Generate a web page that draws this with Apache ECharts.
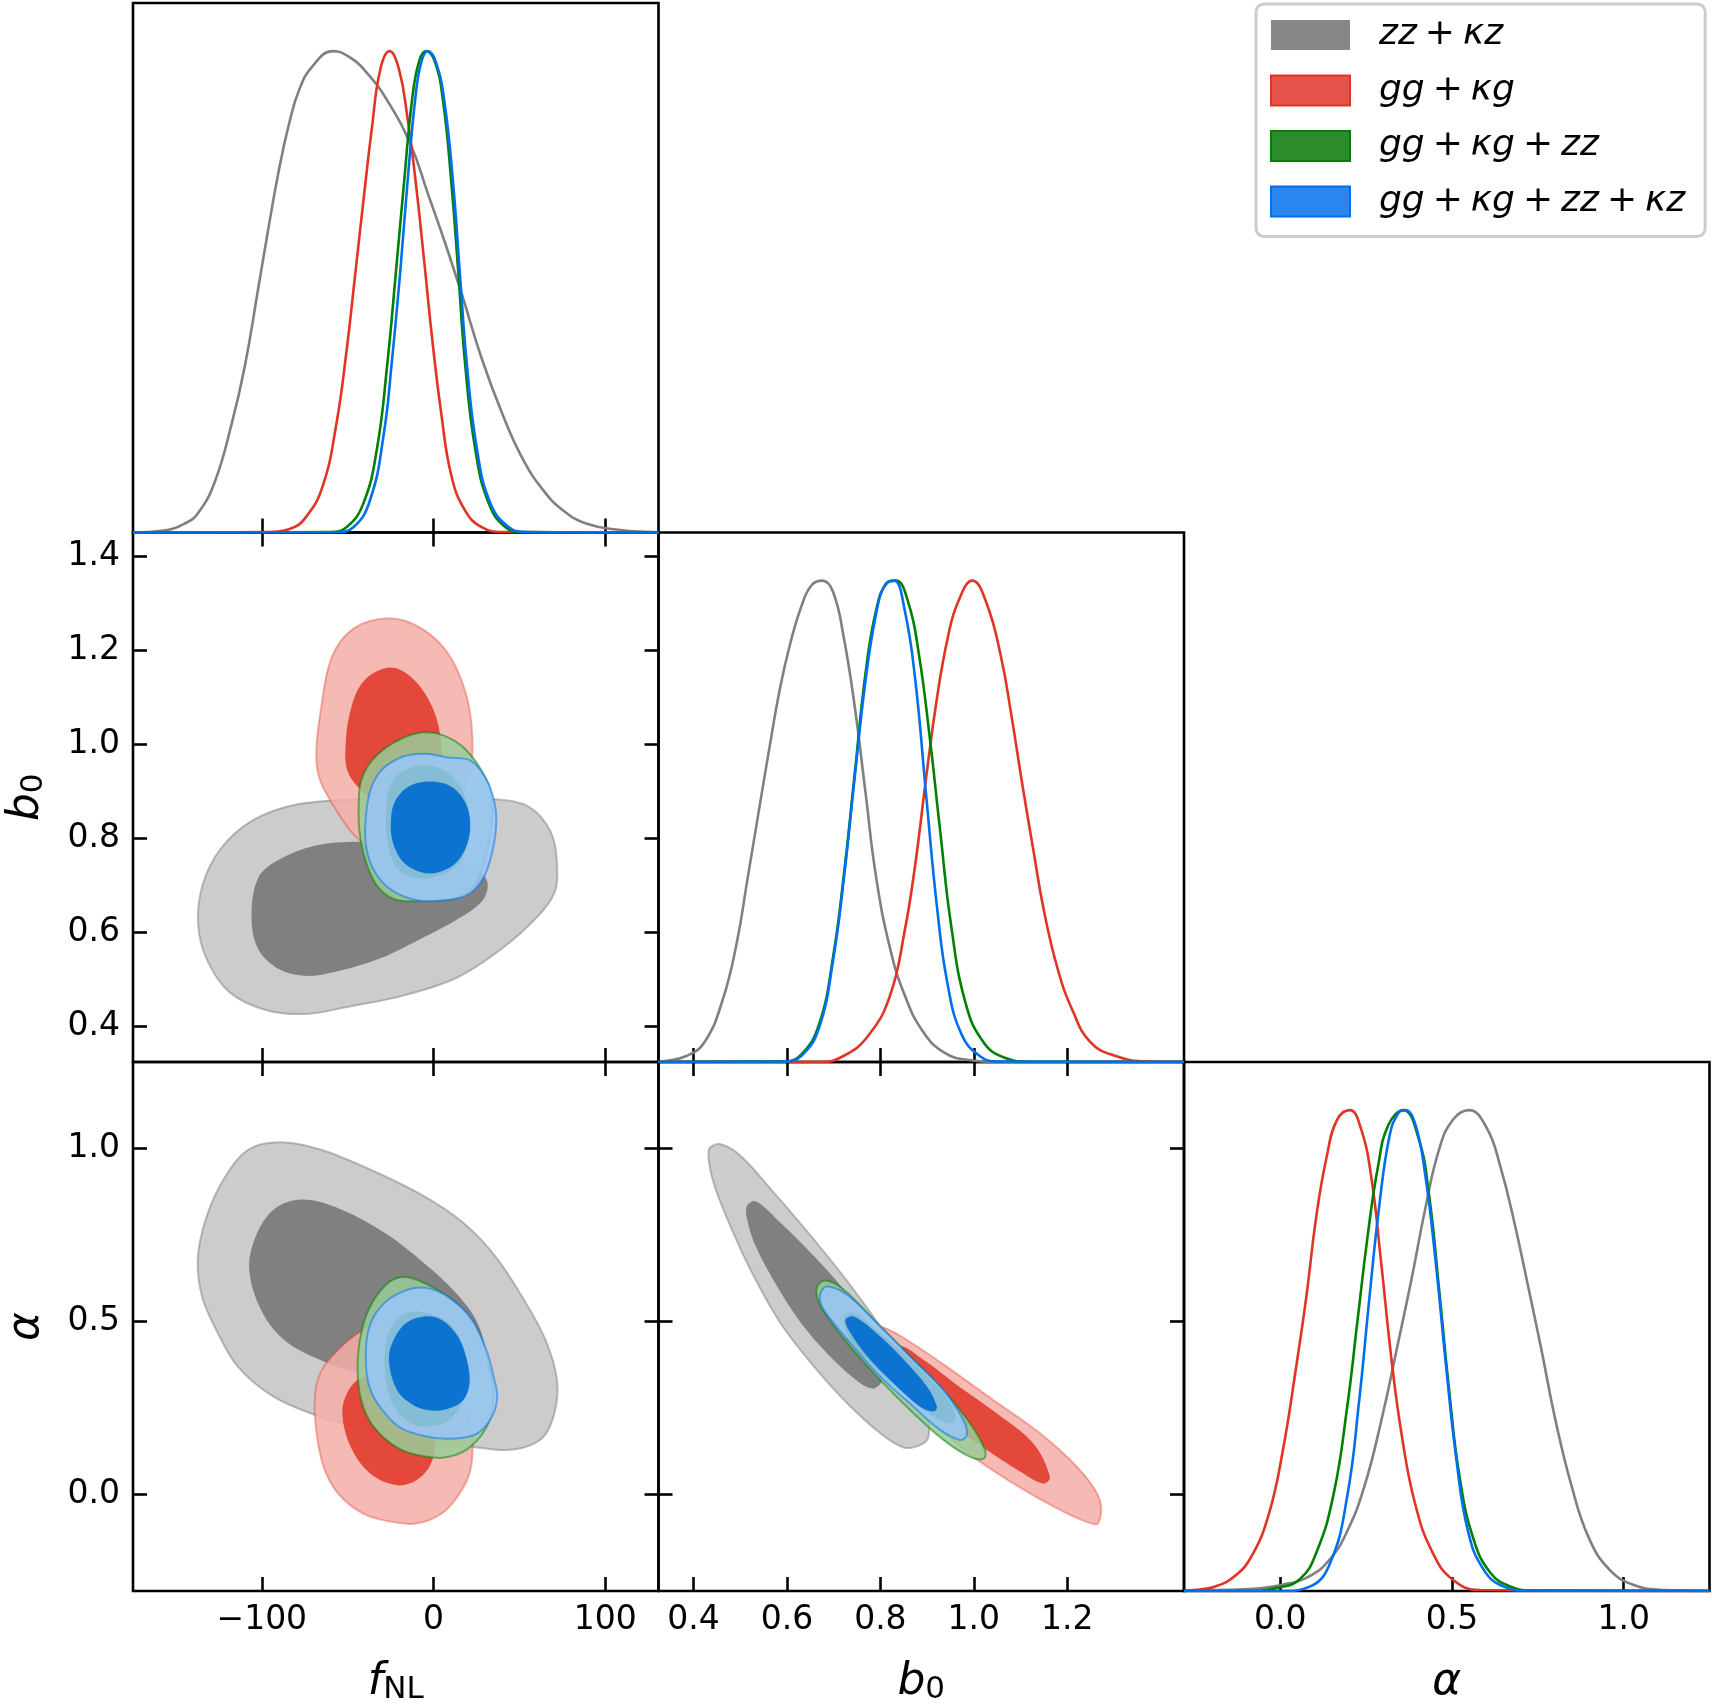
<!DOCTYPE html>
<html>
<head>
<meta charset="utf-8">
<script src="https://cdn.jsdelivr.net/npm/echarts@6/dist/echarts.min.js"></script>
<style>
  html, body { margin: 0; padding: 0; background: #fff; }
  #chart { width: 1712px; height: 1706px; }
</style>
</head>
<body>
<div id="chart"></div>
<script>
// dataset names (legend)
const datasetNames = ['zz + κz', 'gg + κg', 'gg + κg + zz', 'gg + κg + zz + κz'];

// axis ranges and tick values
const fnlRange = [-175, 131];
const b0Range = [0.325, 1.45];
const alphaRange = [-0.28, 1.25];
const fnlTicks = [-100, 0, 100];
const b0XTicks = [0.4, 0.6, 0.8, 1.0, 1.2];
const b0YTicks = [0.4, 0.6, 0.8, 1.0, 1.2, 1.4];
const alphaTicks = [0, 0.5, 1.0];

// 1D marginals  [value, normalised density]
const fnl1dGray = [[-175,0],[-157,0.004],[-145.2,0.018],[-137.4,0.039],[-127.5,0.104],[-117.6,0.225],[-109.8,0.347],[-101.9,0.511],[-96,0.635],[-90.1,0.752],[-84.2,0.848],[-78.3,0.919],[-70.4,0.969],[-58.5,1.0],[-48.7,0.987],[-38.8,0.955],[-27,0.898],[-13.2,0.805],[-3.4,0.705],[6.5,0.604],[16.3,0.497],[28.1,0.361],[40,0.247],[51.8,0.154],[63.6,0.089],[75.4,0.046],[89.2,0.018],[108.9,0.005],[126.6,0.001],[131,0]];
const fnl1dRed = [[-175,0],[-97.9,0.001],[-84.2,0.007],[-74.3,0.032],[-64.5,0.097],[-56.6,0.225],[-50.7,0.376],[-45.7,0.533],[-40.8,0.69],[-35.9,0.84],[-31,0.962],[-25.6,1.0],[-20.1,0.962],[-15.2,0.862],[-10.3,0.726],[-5.4,0.562],[-0.4,0.39],[4.5,0.247],[10.4,0.118],[18.3,0.046],[28.1,0.011],[40,0.001],[131,0]];
const fnl1dGreen = [[-175,0],[-60.5,0.001],[-50.7,0.011],[-40.8,0.061],[-32.9,0.175],[-27,0.347],[-22.1,0.533],[-17.2,0.726],[-12.3,0.905],[-8.3,0.98],[-4.4,1.0],[0.6,0.98],[5.5,0.898],[10.4,0.726],[14.3,0.547],[18.3,0.354],[24.2,0.175],[32.1,0.061],[41.9,0.011],[51.8,0.001],[131,0]];
const fnl1dBlue = [[-175,0],[-56.6,0.001],[-46.7,0.011],[-36.9,0.068],[-29,0.204],[-24.1,0.361],[-19.1,0.554],[-15.2,0.726],[-10.3,0.912],[-6.9,0.98],[-3.4,1.0],[1.5,0.976],[6.5,0.891],[11.4,0.726],[15.3,0.54],[19.3,0.354],[25.2,0.175],[33.1,0.061],[43.9,0.011],[53.8,0.001],[131,0]];

const b01dGray = [[0.325,0],[0.333,0.001],[0.386,0.013],[0.424,0.042],[0.463,0.131],[0.493,0.25],[0.516,0.383],[0.539,0.517],[0.562,0.65],[0.585,0.776],[0.608,0.873],[0.631,0.947],[0.653,0.991],[0.676,1.0],[0.699,0.976],[0.722,0.88],[0.745,0.739],[0.768,0.561],[0.791,0.383],[0.821,0.235],[0.852,0.139],[0.89,0.065],[0.936,0.02],[0.989,0.004],[1.05,0],[1.45,0]];
const b01dRed = [[0.325,0],[0.669,0],[0.722,0.013],[0.776,0.057],[0.821,0.139],[0.852,0.272],[0.875,0.413],[0.898,0.591],[0.921,0.755],[0.944,0.88],[0.966,0.955],[0.997,1.0],[1.027,0.954],[1.058,0.843],[1.081,0.717],[1.104,0.576],[1.127,0.443],[1.15,0.315],[1.18,0.192],[1.211,0.108],[1.249,0.042],[1.302,0.013],[1.371,0.001],[1.45,0]];
const b01dGreen = [[0.325,0],[0.592,0.001],[0.631,0.016],[0.669,0.079],[0.699,0.22],[0.722,0.39],[0.745,0.598],[0.768,0.806],[0.791,0.939],[0.814,0.995],[0.833,1.0],[0.86,0.954],[0.882,0.85],[0.905,0.68],[0.928,0.48],[0.951,0.287],[0.982,0.124],[1.02,0.042],[1.066,0.009],[1.127,0],[1.45,0]];
const b01dBlue = [[0.325,0],[0.592,0.001],[0.631,0.013],[0.669,0.072],[0.699,0.213],[0.722,0.383],[0.745,0.591],[0.768,0.791],[0.791,0.932],[0.81,0.991],[0.829,1.0],[0.852,0.939],[0.875,0.791],[0.898,0.554],[0.921,0.324],[0.944,0.161],[0.974,0.057],[1.012,0.013],[1.05,0.001],[1.45,0]];

const alpha1dGray = [[-0.28,0],[-0.261,0.001],[-0.092,0.004],[0.007,0.013],[0.086,0.031],[0.146,0.067],[0.195,0.124],[0.245,0.217],[0.294,0.353],[0.344,0.518],[0.384,0.654],[0.423,0.797],[0.463,0.919],[0.503,0.98],[0.55,1.0],[0.602,0.962],[0.641,0.883],[0.681,0.769],[0.72,0.64],[0.76,0.504],[0.8,0.36],[0.849,0.217],[0.899,0.11],[0.958,0.045],[1.028,0.013],[1.117,0.002],[1.196,0.001],[1.25,0]];
const alpha1dRed = [[-0.28,0],[-0.251,0.002],[-0.191,0.009],[-0.132,0.031],[-0.082,0.074],[-0.033,0.16],[0.007,0.289],[0.047,0.468],[0.076,0.611],[0.106,0.783],[0.136,0.905],[0.166,0.98],[0.203,1.0],[0.235,0.962],[0.265,0.862],[0.294,0.683],[0.324,0.482],[0.354,0.324],[0.393,0.181],[0.443,0.081],[0.502,0.024],[0.582,0.002],[1.25,0]];
const alpha1dGreen = [[-0.28,0],[-0.092,0],[-0.013,0.006],[0.056,0.024],[0.106,0.081],[0.156,0.203],[0.195,0.382],[0.225,0.561],[0.255,0.74],[0.285,0.883],[0.315,0.969],[0.359,1.0],[0.403,0.941],[0.433,0.826],[0.463,0.625],[0.493,0.41],[0.522,0.239],[0.562,0.11],[0.612,0.038],[0.671,0.009],[0.74,0.001],[1.25,0]];
const alpha1dBlue = [[-0.28,0],[0.007,0],[0.086,0.009],[0.146,0.059],[0.195,0.196],[0.23,0.396],[0.26,0.611],[0.289,0.804],[0.319,0.948],[0.344,0.994],[0.364,1.0],[0.394,0.969],[0.423,0.862],[0.453,0.683],[0.483,0.468],[0.513,0.274],[0.547,0.124],[0.592,0.045],[0.651,0.009],[0.72,0.001],[1.25,0]];

// 2D contours (68% inner / 95% outer), vertices in data units
const fnlB0GrayOuter = [[-137.1,0.618],[-134.5,0.701],[-124.2,0.777],[-106,0.837],[-80,0.872],[-43.6,0.883],[8.3,0.887],[34.3,0.884],[55.1,0.868],[68.1,0.815],[71.9,0.746],[70.6,0.686],[60.3,0.633],[39.5,0.565],[13.5,0.504],[-17.7,0.466],[-48.8,0.443],[-74.8,0.427],[-98.2,0.436],[-119,0.474],[-131.9,0.542]];
const fnlB0GrayInner = [[-106,0.633],[-102.1,0.716],[-90.4,0.754],[-69.6,0.784],[-43.6,0.793],[-17.7,0.784],[8.3,0.762],[23.9,0.739],[31.2,0.709],[29.1,0.671],[16.1,0.633],[-7.3,0.587],[-33.2,0.542],[-59.2,0.515],[-74.8,0.508],[-90.4,0.523],[-102.1,0.565]];
const fnlB0RedOuter = [[-68.3,0.982],[-65.7,1.072],[-59.2,1.186],[-46.2,1.247],[-25.5,1.268],[-7.3,1.247],[8.3,1.194],[18.7,1.11],[22.6,1.019],[21.3,0.944],[13.5,0.868],[-2.1,0.807],[-22.9,0.769],[-33.2,0.773],[-46.2,0.807],[-59.2,0.875],[-66.5,0.928]];
const fnlB0RedInner = [[-51.4,0.982],[-48.8,1.065],[-41,1.133],[-25.5,1.163],[-12.5,1.141],[-0.8,1.08],[4.4,1.004],[3.1,0.928],[-4.7,0.875],[-17.7,0.868],[-33.2,0.875],[-44.9,0.913],[-50.1,0.944]];
const fnlB0GreenOuter = [[-43.6,0.868],[-42.3,0.921],[-35.8,0.966],[-22.9,1.004],[-7.3,1.025],[5.7,1.019],[18.7,0.989],[30.4,0.928],[34.3,0.875],[33,0.807],[29.1,0.746],[23.9,0.701],[13.5,0.674],[-7.3,0.667],[-22.9,0.671],[-33.2,0.701],[-39.7,0.754],[-43.1,0.815]];
const fnlB0GreenInner = [[-27.5,0.868],[-24.2,0.921],[-12.5,0.951],[1.8,0.951],[13.5,0.921],[20,0.868],[20,0.807],[16.1,0.754],[5.7,0.724],[-9.9,0.716],[-21.6,0.739],[-26.8,0.792]];
const fnlB0BlueOuter = [[-39.7,0.83],[-37.1,0.898],[-30.6,0.944],[-17.7,0.974],[-4.7,0.98],[8.3,0.972],[21.3,0.966],[30.4,0.928],[35.6,0.875],[36.4,0.822],[33,0.754],[27.8,0.709],[18.7,0.678],[0.5,0.667],[-12.5,0.671],[-25.5,0.693],[-34.5,0.731],[-39,0.777]];
const fnlB0BlueInner = [[-24.9,0.83],[-22.9,0.875],[-15.1,0.909],[-2.1,0.921],[10.9,0.909],[18.7,0.875],[21.3,0.837],[20,0.792],[13.5,0.75],[3.1,0.728],[-7.3,0.728],[-17.7,0.75],[-23.4,0.788]];

const fnlAlphaGrayOuter = [[-137.3,0.678],[-132.7,0.794],[-122.3,0.91],[-107.7,0.997],[-89,1.018],[-66,0.997],[-36.9,0.939],[-5.6,0.862],[17.3,0.785],[36,0.688],[52.7,0.562],[65.2,0.446],[71.9,0.33],[70.4,0.234],[63.1,0.161],[46.5,0.129],[25.6,0.135],[-5.6,0.157],[-36.9,0.186],[-66,0.224],[-93.1,0.282],[-114,0.369],[-126.5,0.475],[-134.8,0.572]];
const fnlAlphaGrayInner = [[-107.3,0.649],[-103.5,0.746],[-93.1,0.823],[-76.5,0.852],[-53.5,0.823],[-28.5,0.756],[-5.6,0.669],[13.1,0.582],[25.6,0.495],[29.8,0.398],[21.5,0.33],[0.6,0.311],[-24.4,0.33],[-49.4,0.359],[-66,0.388],[-86.9,0.446],[-100.4,0.533]];
const fnlAlphaRedOuter = [[-69.2,0.272],[-66,0.35],[-55.6,0.417],[-41,0.475],[-30.6,0.49],[-18.1,0.475],[-3.5,0.417],[9,0.34],[18.3,0.253],[22.5,0.157],[21.5,0.07],[15.2,0.002],[4.8,-0.056],[-9.8,-0.085],[-24.4,-0.08],[-41,-0.056],[-55.6,0.002],[-64,0.079],[-68.1,0.176]];
const fnlAlphaRedInner = [[-53.1,0.234],[-49.4,0.301],[-41,0.34],[-28.5,0.34],[-11.9,0.272],[0.6,0.157],[-1.5,0.089],[-9.8,0.041],[-21.3,0.026],[-36.9,0.06],[-48.3,0.137]];
const fnlAlphaGreenOuter = [[-44.2,0.369],[-42.1,0.466],[-36.9,0.543],[-26.5,0.611],[-16,0.628],[-1.5,0.601],[13.1,0.553],[25.6,0.475],[31.9,0.379],[35,0.292],[31.9,0.205],[21.5,0.137],[9,0.108],[-3.5,0.108],[-20.2,0.132],[-34.8,0.195],[-42.1,0.272]];
const fnlAlphaGreenInner = [[-28.5,0.408],[-24.4,0.485],[-16,0.524],[-5.6,0.526],[9,0.495],[17.3,0.427],[20.4,0.35],[17.3,0.272],[9,0.214],[-3.5,0.195],[-16,0.214],[-25.4,0.282]];
const fnlAlphaBlueOuter = [[-39.4,0.388],[-37.9,0.475],[-30.6,0.543],[-18.1,0.586],[-3.5,0.596],[11,0.562],[22.5,0.504],[30.8,0.417],[35,0.34],[37.1,0.282],[34,0.224],[25.6,0.176],[13.1,0.161],[-3.5,0.166],[-20.2,0.195],[-32.7,0.263],[-37.9,0.321]];
const fnlAlphaBlueInner = [[-26,0.388],[-23.3,0.446],[-16,0.495],[-5.6,0.514],[4.8,0.504],[14.2,0.456],[19.4,0.388],[21,0.321],[17.3,0.272],[9,0.248],[-1.5,0.242],[-11.9,0.258],[-21.3,0.301]];

const b0AlphaGrayOuter = [[0.433,0.997],[0.458,1.012],[0.501,0.978],[0.572,0.872],[0.658,0.736],[0.743,0.591],[0.814,0.456],[0.871,0.33],[0.9,0.234],[0.903,0.166],[0.885,0.142],[0.85,0.135],[0.8,0.176],[0.729,0.263],[0.658,0.369],[0.586,0.495],[0.522,0.649],[0.473,0.794],[0.441,0.91]];
const b0AlphaGrayInner = [[0.514,0.833],[0.533,0.847],[0.586,0.785],[0.658,0.688],[0.722,0.591],[0.772,0.495],[0.8,0.408],[0.804,0.33],[0.786,0.306],[0.757,0.321],[0.7,0.388],[0.636,0.485],[0.579,0.601],[0.533,0.717],[0.515,0.794]];
const b0AlphaRedOuter = [[0.772,0.475],[0.8,0.485],[0.857,0.446],[0.942,0.369],[1.042,0.272],[1.142,0.176],[1.227,0.07],[1.27,-0.017],[1.266,-0.085],[1.241,-0.08],[1.177,-0.04],[1.092,0.025],[0.999,0.108],[0.914,0.205],[0.843,0.315],[0.786,0.412]];
const b0AlphaRedInner = [[0.843,0.427],[0.893,0.388],[0.964,0.316],[1.049,0.234],[1.127,0.147],[1.163,0.05],[1.149,0.031],[1.106,0.06],[1.028,0.128],[0.949,0.205],[0.885,0.282],[0.85,0.35]];
const b0AlphaGreenOuter = [[0.665,0.601],[0.683,0.618],[0.722,0.591],[0.786,0.504],[0.857,0.408],[0.928,0.311],[0.992,0.205],[1.024,0.128],[1.021,0.103],[0.992,0.108],[0.935,0.157],[0.871,0.234],[0.8,0.33],[0.736,0.427],[0.686,0.514],[0.666,0.563]];
const b0AlphaGreenInner = [[0.722,0.514],[0.743,0.524],[0.8,0.466],[0.871,0.379],[0.928,0.301],[0.96,0.234],[0.953,0.205],[0.914,0.224],[0.85,0.292],[0.786,0.369],[0.736,0.446]];
const b0AlphaBlueOuter = [[0.672,0.582],[0.686,0.601],[0.729,0.577],[0.8,0.485],[0.871,0.388],[0.935,0.301],[0.978,0.214],[0.985,0.171],[0.971,0.157],[0.928,0.186],[0.871,0.253],[0.8,0.34],[0.736,0.437],[0.686,0.519],[0.672,0.553]];
const b0AlphaBlueInner = [[0.725,0.504],[0.743,0.514],[0.8,0.456],[0.857,0.379],[0.9,0.311],[0.921,0.253],[0.914,0.239],[0.885,0.253],[0.828,0.321],[0.772,0.398],[0.736,0.466]];

// colours (getdist style: outer = pale, added sets alpha 0.85)
const styles = [
  { line: '#808080', outer: '#cccccc', inner: '#808080', edge: 'rgba(128,128,128,0.5)', legFill: '#878787' },
  { line: '#e03424', outer: 'rgba(243,174,167,0.85)', inner: 'rgba(224,52,36,0.85)', edge: 'rgba(224,52,36,0.35)', legFill: '#e5534b' },
  { line: '#008000', outer: 'rgba(153,204,153,0.85)', inner: 'rgba(0,128,0,0.85)', edge: 'rgba(0,128,0,0.5)', legFill: '#2a8c2a' },
  { line: '#006fed', outer: 'rgba(153,197,248,0.85)', inner: 'rgba(0,106,208,0.9)', edge: 'rgba(0,111,237,0.5)', legFill: '#2a85ee' }
];

const FONT = 'DejaVu Sans';
const colL = [133, 658.5, 1184], rowT = [3, 532.5, 1062], PW = 525.5, PH = 529.5;
const grids = [], xAxes = [], yAxes = [], series = [];

function panel(r, c) {
  grids.push({ left: colL[c], top: rowT[r], width: PW, height: PH, show: true,
    borderColor: '#000', borderWidth: 2.6, backgroundColor: 'transparent' });
  return grids.length - 1;
}

const nameRich = {
  i: { fontFamily: FONT, fontStyle: 'italic', fontSize: 44, lineHeight: 50, color: '#000', verticalAlign: 'bottom' },
  s: { fontFamily: FONT, fontSize: 31, lineHeight: 10, color: '#000', verticalAlign: 'bottom' }
};

function axis(list, gridIndex, pos, range, ticks, labelFmt, name) {
  const a = {
    type: 'value', gridIndex, position: pos, min: range[0], max: range[1],
    splitLine: { show: false },
    axisLine: { show: false, onZero: false },
    axisTick: { show: !!ticks, inside: true, length: 14, lineStyle: { color: '#000', width: 2.6 }, customValues: ticks || undefined },
    axisLabel: { show: !!labelFmt, customValues: ticks || undefined, formatter: labelFmt,
      fontFamily: FONT, fontSize: 33, color: '#000', margin: 13 }
  };
  if (name) {
    a.name = name;
    a.nameLocation = 'middle';
    a.nameTextStyle = { rich: nameRich };
    if (pos === 'bottom') a.nameGap = 64;
    else { a.nameRotate = 90; a.nameGap = 84; }
  }
  list.push(a);
  return list.length - 1;
}
const fmtInt = v => (v < 0 ? '\u2212' : '') + Math.abs(v);
const fmt1 = v => (v < 0 ? '\u2212' : '') + Math.abs(v).toFixed(1);

function hiddenY(g) {
  yAxes.push({ type: 'value', gridIndex: g, min: 0, max: 1.1, show: false });
  return yAxes.length - 1;
}

function curve(xi, yi, data, k) {
  series.push({ type: 'line', name: datasetNames[k], xAxisIndex: xi, yAxisIndex: yi, data,
    smooth: 0.45, symbol: 'none', silent: true,
    lineStyle: { color: styles[k].line, width: 2.6 }, itemStyle: { color: styles[k].line } });
}

function contour(xi, yi, pts, fill, edge) {
  series.push({ type: 'custom', xAxisIndex: xi, yAxisIndex: yi, data: pts, silent: true,
    renderItem: (params, api) => {
      if (params.dataIndex !== 0) return null;
      return { type: 'polygon',
        shape: { points: pts.map(p => api.coord(p)), smooth: 0.35 },
        style: { fill, stroke: edge || null, lineWidth: edge ? 2 : 0 } };
    } });
}

// ---- panels ----
// fNL 1D
let g = panel(0, 0);
let xa = axis(xAxes, g, 'bottom', fnlRange, fnlTicks);
let ya = hiddenY(g);
[fnl1dGray, fnl1dRed, fnl1dGreen, fnl1dBlue].forEach((d, k) => curve(xa, ya, d, k));

// fNL vs b0
g = panel(1, 0);
xa = axis(xAxes, g, 'bottom', fnlRange, fnlTicks);
axis(xAxes, g, 'top', fnlRange, fnlTicks);
ya = axis(yAxes, g, 'left', b0Range, b0YTicks, fmt1, '{i|b}{s|0}');
axis(yAxes, g, 'right', b0Range, b0YTicks);
[[fnlB0GrayOuter, fnlB0GrayInner], [fnlB0RedOuter, fnlB0RedInner],
 [fnlB0GreenOuter, fnlB0GreenInner], [fnlB0BlueOuter, fnlB0BlueInner]].forEach((pr, k) => {
  contour(xa, ya, pr[0], styles[k].outer, styles[k].edge);
  contour(xa, ya, pr[1], styles[k].inner);
});

// b0 1D
g = panel(1, 1);
xa = axis(xAxes, g, 'bottom', b0Range, b0XTicks);
ya = hiddenY(g);
[b01dGray, b01dRed, b01dGreen, b01dBlue].forEach((d, k) => curve(xa, ya, d, k));

// fNL vs alpha
g = panel(2, 0);
xa = axis(xAxes, g, 'bottom', fnlRange, fnlTicks, fmtInt, '{i|f}{s|NL}');
axis(xAxes, g, 'top', fnlRange, fnlTicks);
ya = axis(yAxes, g, 'left', alphaRange, alphaTicks, fmt1, '{i|α}');
axis(yAxes, g, 'right', alphaRange, alphaTicks);
[[fnlAlphaGrayOuter, fnlAlphaGrayInner], [fnlAlphaRedOuter, fnlAlphaRedInner],
 [fnlAlphaGreenOuter, fnlAlphaGreenInner], [fnlAlphaBlueOuter, fnlAlphaBlueInner]].forEach((pr, k) => {
  contour(xa, ya, pr[0], styles[k].outer, styles[k].edge);
  contour(xa, ya, pr[1], styles[k].inner);
});

// b0 vs alpha
g = panel(2, 1);
xa = axis(xAxes, g, 'bottom', b0Range, b0XTicks, fmt1, '{i|b}{s|0}');
axis(xAxes, g, 'top', b0Range, b0XTicks);
ya = axis(yAxes, g, 'left', alphaRange, alphaTicks);
axis(yAxes, g, 'right', alphaRange, alphaTicks);
[[b0AlphaGrayOuter, b0AlphaGrayInner], [b0AlphaRedOuter, b0AlphaRedInner],
 [b0AlphaGreenOuter, b0AlphaGreenInner], [b0AlphaBlueOuter, b0AlphaBlueInner]].forEach((pr, k) => {
  contour(xa, ya, pr[0], styles[k].outer, styles[k].edge);
  contour(xa, ya, pr[1], styles[k].inner);
});

// alpha 1D
g = panel(2, 2);
xa = axis(xAxes, g, 'bottom', alphaRange, alphaTicks, fmt1, '{i|α}');
ya = hiddenY(g);
[alpha1dGray, alpha1dRed, alpha1dGreen, alpha1dBlue].forEach((d, k) => curve(xa, ya, d, k));

const chart = echarts.init(document.getElementById('chart'), null, { renderer: 'canvas' });
chart.setOption({
  animation: false,
  backgroundColor: '#fff',
  grid: grids,
  xAxis: xAxes,
  yAxis: yAxes,
  legend: {
    orient: 'vertical', left: 1256, top: 4,
    padding: [11, 20, 15, 14],
    backgroundColor: '#fff', borderColor: '#cccccc', borderWidth: 3, borderRadius: 8,
    itemWidth: 79, itemHeight: 30, itemGap: 15.5,
    selectedMode: false,
    data: datasetNames.map((n, k) => ({ name: n, icon: 'rect',
      itemStyle: { color: styles[k].legFill, borderColor: styles[k].line, borderWidth: k === 0 ? 0 : 2 } })),
    formatter: name => '{sp|}' + name.split(' ').map(t => t === '+' ? '{n|+}' : '{i|' + t + '}').join(''),
    textStyle: {
      fontFamily: FONT, fontSize: 36, color: '#000', lineHeight: 40,
      rich: {
        sp: { width: 24 },
        i: { fontFamily: FONT, fontStyle: 'italic', fontSize: 36, color: '#000', lineHeight: 40 },
        n: { fontFamily: FONT, fontSize: 36, color: '#000', lineHeight: 40, padding: [0, 8, 0, 8] }
      }
    }
  },
  series
});
</script>
</body>
</html>
